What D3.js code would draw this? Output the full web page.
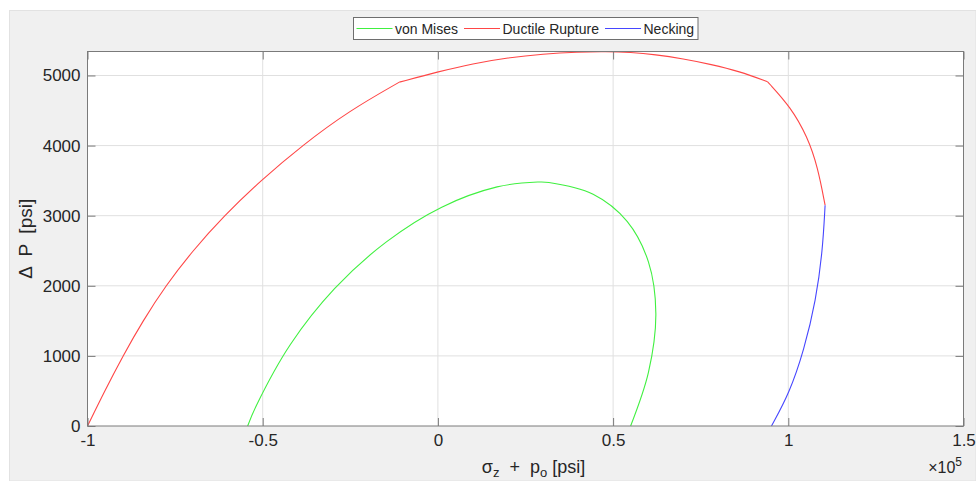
<!DOCTYPE html>
<html>
<head>
<meta charset="utf-8">
<script src="https://cdn.jsdelivr.net/npm/d3@7"></script>
<style>
  html, body { margin: 0; padding: 0; background: #ffffff; }
  svg { display: block; font-family: "Liberation Sans", Arial, Helvetica, sans-serif; }
</style>
</head>
<body>
<svg id="chart"></svg>
<script>
// Curves: [sigma_z + p_o (psi), delta P (psi)]
var vonMises = [
  [-54300, 0], [-51800, 293], [-42100, 1162], [-29500, 1958], [-14700, 2627],
  [1100, 3122], [16900, 3411], [28500, 3480], [31700, 3474], [44300, 3306],
  [54000, 2919], [60100, 2338], [62200, 1605], [60100, 768], [55000, 0]
];

// ductile rupture is three pieces joined at kinks
var ruptureLow = [
  [-100000, 0], [-95100, 500], [-89900, 1000], [-84200, 1500], [-77700, 2000],
  [-70000, 2500], [-61000, 3000], [-50600, 3500], [-38800, 4000], [-25200, 4500],
  [-11000, 4905]
];
var ruptureTop = [
  [-11000, 4905], [0, 5053], [10000, 5170], [20000, 5254], [30000, 5308],
  [40000, 5336], [48000, 5342], [55000, 5330], [62000, 5298], [70000, 5238],
  [78000, 5158], [86000, 5060], [94100, 4910]
];
var ruptureRight = [
  [94100, 4910], [100700, 4549], [105500, 4121], [108400, 3694], [110500, 3150]
];

var necking = [
  [110500, 3150], [109800, 2507], [107900, 1795], [104500, 1083], [100300, 466],
  [95200, 0]
];

var xTicks = [-100000, -50000, 0, 50000, 100000, 150000];
var yTicks = [0, 1000, 2000, 3000, 4000, 5000];

var seriesNames = ["von Mises", "Ductile Rupture", "Necking"];
var seriesColors = ["#40f040", "#ff4646", "#4646ff"];

var width = 976,
    height = 481;

var margin = {left: 87.5, top: 51.5, right: 976 - 963.5, bottom: 481 - 426};

var svg = d3.select("#chart")
    .attr("width", width)
    .attr("height", height);

// figure background
svg.append("rect")
    .attr("x", 9.5).attr("y", 10.5)
    .attr("width", width - 9.5).attr("height", height - 10.5)
    .attr("fill", "#f0f0f0")
    .attr("stroke", "#e2e2e2");

var x = d3.scaleLinear()
    .domain([-100000, 150000])
    .range([margin.left, width - margin.right]);

var y = d3.scaleLinear()
    .domain([0, 5342])
    .range([height - margin.bottom, margin.top]);

var axisColor = "#7a7a7a",
    textColor = "#262626";

svg.append("rect")
    .attr("x", x.range()[0]).attr("y", y.range()[1])
    .attr("width", x.range()[1] - x.range()[0])
    .attr("height", y.range()[0] - y.range()[1])
    .attr("fill", "#ffffff");

// grid
var grid = svg.append("g").attr("class", "grid")
    .attr("stroke", "#e0e0e0")
    .attr("stroke-width", 1);

grid.selectAll("line.gx")
    .data(xTicks.slice(1, -1))
  .enter().append("line")
    .attr("x1", function(d) { return x(d); })
    .attr("x2", function(d) { return x(d); })
    .attr("y1", y.range()[0])
    .attr("y2", y.range()[1]);

grid.selectAll("line.gy")
    .data(yTicks.slice(1))
  .enter().append("line")
    .attr("x1", x.range()[0])
    .attr("x2", x.range()[1])
    .attr("y1", function(d) { return y(d); })
    .attr("y2", function(d) { return y(d); });

// curves
function lineWith(curve) {
  return d3.line()
    .x(function(d) { return x(d[0]); })
    .y(function(d) { return y(d[1]); })
    .curve(curve);
}

var curves = [
  {data: vonMises, color: seriesColors[0], curve: d3.curveCatmullRom.alpha(0.5)},
  {data: ruptureLow, color: seriesColors[1], curve: d3.curveBasis},
  {data: ruptureTop, color: seriesColors[1], curve: d3.curveBasis},
  {data: ruptureRight, color: seriesColors[1], curve: d3.curveBasis},
  {data: necking, color: seriesColors[2], curve: d3.curveBasis}
];

svg.append("g").attr("class", "curves")
  .selectAll("path")
  .data(curves)
  .enter().append("path")
    .attr("d", function(d) { return lineWith(d.curve)(d.data); })
    .attr("fill", "none")
    .attr("stroke", function(d) { return d.color; })
    .attr("stroke-width", 1.1);

// axes, ticks pointing inward
function styleAxis(g) {
  g.select(".domain").remove();
  g.selectAll(".tick line").attr("stroke", axisColor);
  g.selectAll(".tick text")
    .attr("fill", textColor)
    .style("font-size", "17px")
    .style("font-family", "\"Liberation Sans\", Arial, sans-serif");
}

// plain hyphen for negatives, like the original
var fmtX = function(d) { return d3.format("~g")(d / 100000).replace("\u2212", "-"); };

svg.append("g")
    .attr("transform", "translate(0," + y.range()[0] + ")")
    .call(d3.axisBottom(x).tickValues(xTicks).tickFormat(fmtX)
      .tickSizeInner(-8).tickSizeOuter(0).tickPadding(8))
    .call(styleAxis);

svg.append("g")
    .attr("transform", "translate(0," + y.range()[1] + ")")
    .call(d3.axisTop(x).tickValues(xTicks).tickFormat("")
      .tickSizeInner(-8).tickSizeOuter(0))
    .call(styleAxis);

svg.append("g")
    .attr("transform", "translate(" + x.range()[0] + ",0)")
    .call(d3.axisLeft(y).tickValues(yTicks).tickFormat(d3.format("d"))
      .tickSizeInner(-8).tickSizeOuter(0).tickPadding(7))
    .call(styleAxis);

svg.append("g")
    .attr("transform", "translate(" + x.range()[1] + ",0)")
    .call(d3.axisRight(y).tickValues(yTicks).tickFormat("")
      .tickSizeInner(-8).tickSizeOuter(0))
    .call(styleAxis);

// box
svg.append("rect")
    .attr("x", x.range()[0]).attr("y", y.range()[1])
    .attr("width", x.range()[1] - x.range()[0])
    .attr("height", y.range()[0] - y.range()[1])
    .attr("fill", "none")
    .attr("stroke", axisColor);

// axis labels
var xLabel = svg.append("text")
    .attr("x", (x.range()[0] + x.range()[1]) / 2 + 8)
    .attr("y", 473)
    .attr("text-anchor", "middle")
    .attr("fill", textColor)
    .style("font-size", "18px")
    .style("white-space", "pre");
xLabel.append("tspan").text("σ");
xLabel.append("tspan").attr("dy", 4).style("font-size", "13px").text("z");
xLabel.append("tspan").attr("dy", -4).text("  +  p");
xLabel.append("tspan").attr("dy", 4).style("font-size", "13px").text("o");
xLabel.append("tspan").attr("dy", -4).text(" [psi]");

var expLabel = svg.append("text")
    .attr("x", 962)
    .attr("y", 473)
    .attr("text-anchor", "end")
    .attr("fill", textColor)
    .style("font-size", "16px");
expLabel.append("tspan").text("×10");
expLabel.append("tspan").attr("dy", -7).style("font-size", "12px").text("5");

svg.append("text")
    .attr("transform", "translate(32," + ((y.range()[0] + y.range()[1]) / 2) + ") rotate(-90)")
    .attr("text-anchor", "middle")
    .attr("fill", textColor)
    .style("font-size", "19px")
    .style("white-space", "pre")
    .text("Δ  P  [psi]");

// legend
var legend = svg.append("g").attr("class", "legend");

legend.append("rect")
    .attr("x", 353.5).attr("y", 17.5)
    .attr("width", 344.5).attr("height", 22)
    .attr("fill", "#ffffff")
    .attr("stroke", "#6e6e6e");

var legendX = [356.5, 464, 605];
var legendItem = legend.selectAll("g.item")
    .data(seriesNames)
  .enter().append("g")
    .attr("class", "item")
    .attr("transform", function(d, i) { return "translate(" + legendX[i] + ",28.5)"; });

legendItem.append("line")
    .attr("x1", 0).attr("x2", 36)
    .attr("stroke", function(d, i) { return seriesColors[i]; })
    .attr("stroke-width", 1.1);

legendItem.append("text")
    .attr("x", 38.5)
    .attr("y", 5)
    .attr("fill", textColor)
    .style("font-size", "14px")
    .text(function(d) { return d; });
</script>
</body>
</html>
